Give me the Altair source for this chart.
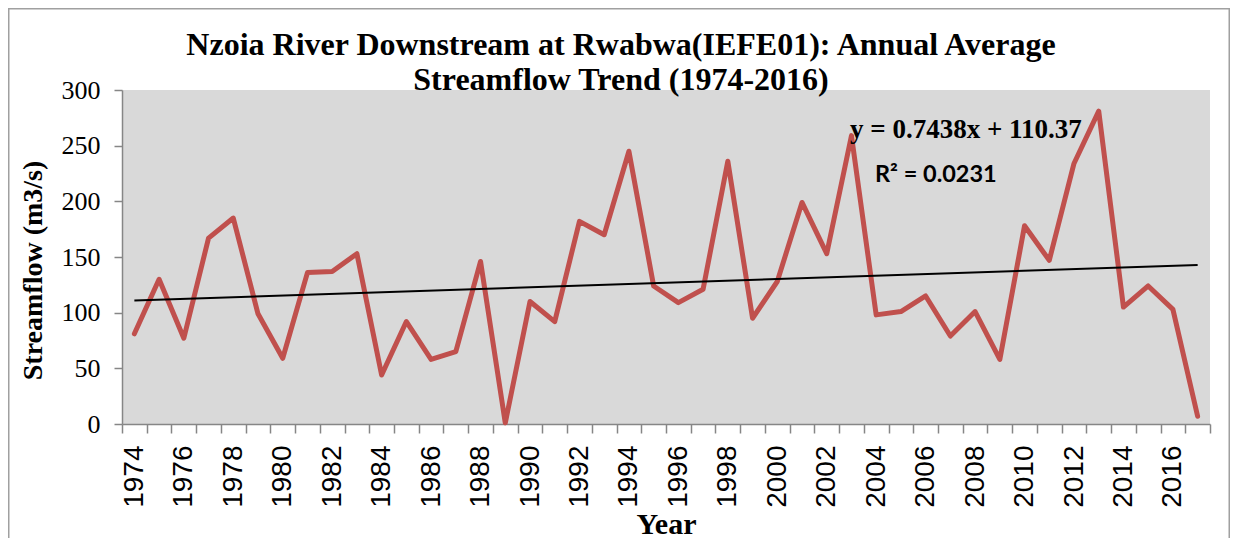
import altair as alt
import pandas as pd

# ---- data ----
years = list(range(1974, 2018))
streamflow = [81, 130, 77, 167, 185, 99, 59, 136, 137, 153,
              44, 92, 58, 65, 146, 1, 110, 92, 182, 170,
              245, 124, 109, 121, 236, 95, 128, 199, 153, 259,
              98, 101, 115, 79, 101, 58, 178, 147, 234, 281,
              105, 124, 103, 7]
y_ticks = [0, 50, 100, 150, 200, 250, 300]
title_lines = ["Nzoia River Downstream at Rwabwa(IEFE01): Annual Average",
               "Streamflow Trend (1974-2016)"]
equation_text = "y = 0.7438x + 110.37"
r2_text = "R\u00b2 = 0.0231"

df = pd.DataFrame({"Year": years, "Streamflow": streamflow})

AXIS_GRAY = "#868686"
LINE_RED = "#C0504D"

x_axis = alt.Axis(
    title="Year",
    titleFont="Liberation Serif", titleFontSize=30, titleFontWeight="bold",
    titleColor="black", titleY=109, titleBaseline="alphabetic",
    labelAngle=270, labelFont="Liberation Sans", labelFontSize=28,
    labelColor="black", labelPadding=12, labelOverlap=False,
    labelExpr="datum.value % 2 == 0 ? datum.label : ''",
    tickBand="extent", tickSize=9, tickColor=AXIS_GRAY, tickWidth=1.5,
    domainColor=AXIS_GRAY, domainWidth=1.5, grid=False,
)
y_axis = alt.Axis(
    title="Streamflow (m3/s)",
    titleFont="Liberation Serif", titleFontSize=28, titleFontWeight="bold",
    titleColor="black", titleX=-81, titleY=180, titleBaseline="alphabetic",
    values=y_ticks, labelFont="Liberation Serif", labelFontSize=26,
    labelColor="black", labelPadding=14,
    tickSize=8, tickColor=AXIS_GRAY, tickWidth=1.5,
    domainColor=AXIS_GRAY, domainWidth=1.5, grid=False,
)

base = alt.Chart(df)

flow_line = base.mark_line(
    color=LINE_RED, strokeWidth=5, strokeJoin="round", strokeCap="round"
).encode(
    x=alt.X("Year:O", bandPosition=0.5,
            scale=alt.Scale(type="band", paddingInner=0, paddingOuter=0),
            axis=x_axis),
    y=alt.Y("Streamflow:Q", scale=alt.Scale(domain=[0, 300], nice=False),
            axis=y_axis),
)

trend_line = base.transform_regression(
    "Year", "Streamflow", method="linear"
).mark_line(color="black", strokeWidth=2).encode(
    x=alt.X("Year:O", bandPosition=0.5),
    y=alt.Y("Streamflow:Q"),
)

one = alt.Data(values=[{}])

title1 = alt.Chart(one).mark_text(
    text=title_lines[0], font="Liberation Serif", fontSize=32,
    fontWeight="bold", color="black", align="center", baseline="alphabetic"
).encode(x=alt.value(499), y=alt.value(-35))

title2 = alt.Chart(one).mark_text(
    text=title_lines[1], font="Liberation Serif", fontSize=32,
    fontWeight="bold", color="black", align="center", baseline="alphabetic"
).encode(x=alt.value(499), y=alt.value(0))

eq_label = alt.Chart(one).mark_text(
    text=equation_text, font="Liberation Serif", fontSize=27,
    fontWeight="bold", color="black", align="left", baseline="alphabetic"
).encode(x=alt.value(728), y=alt.value(48))

r2_label = alt.Chart(one).mark_text(
    text=r2_text, font="Lato", fontSize=23.5,
    fontWeight="bold", color="black", align="left", baseline="alphabetic"
).encode(x=alt.value(753), y=alt.value(92))

border = alt.Chart(one).mark_rect(
    filled=False, stroke="#A0A0A0", strokeWidth=1.5
).encode(x=alt.value(-113.25), x2=alt.value(1107.25),
         y=alt.value(-81.25), y2=alt.value(470))

chart = alt.layer(
    border, flow_line, trend_line, title1, title2, eq_label, r2_label
).properties(
    width=1088, height=334,
    autosize=alt.AutoSizeParams(type="none"),
    padding={"left": 114, "top": 82, "right": 20, "bottom": 114},
    background="white",
).configure_view(fill="#D9D9D9", stroke=None)

chart.save("out.html", embed_options={"renderer": "svg", "actions": False})
